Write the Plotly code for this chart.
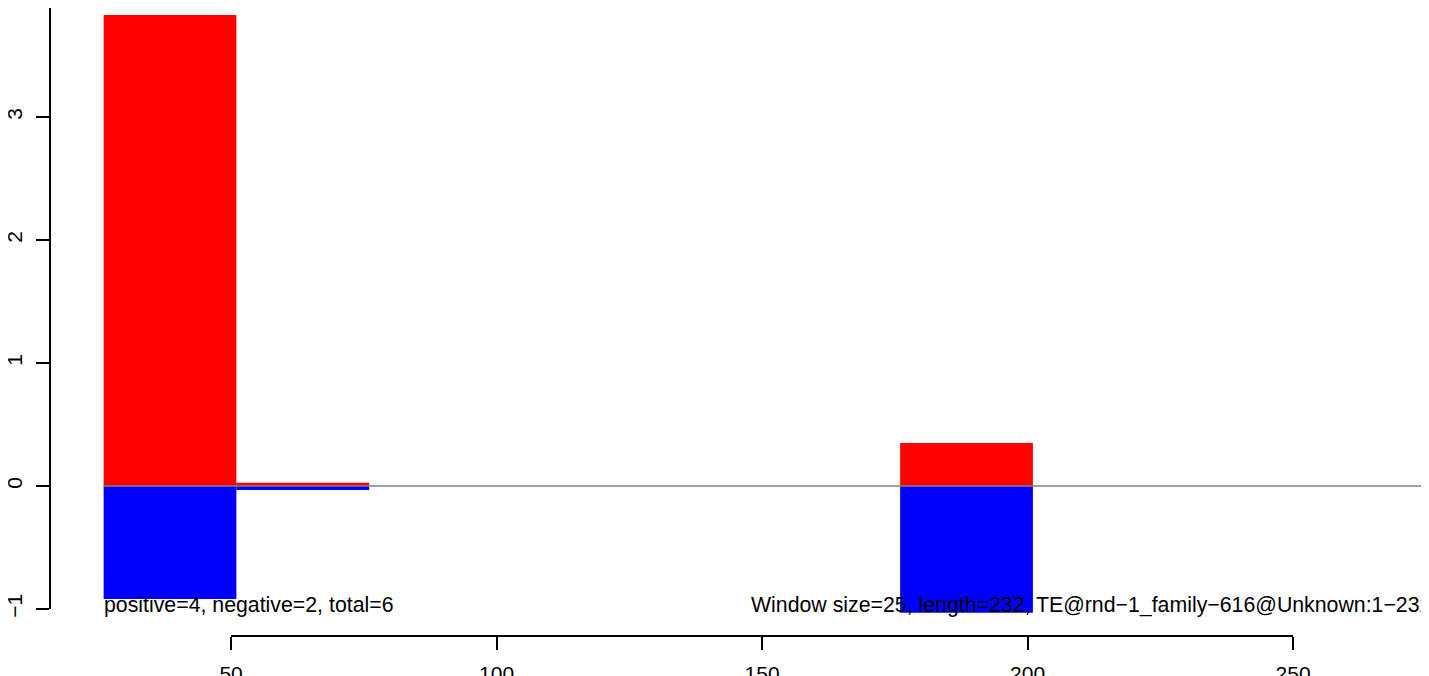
import plotly.graph_objects as go

# Data
window_starts = [26, 51, 176]
window_size = 25
positive_vals = [3.83, 0.025, 0.35]
negative_vals = [-0.92, -0.033, -1.03]
x_ticks = [50, 100, 150, 200, 250]
y_ticks = [-1, 0, 1, 2, 3, 4]
left_text = "positive=4, negative=2, total=6"
right_text = "Window size=25, length=232, TE@rnd\u22121_family\u2212616@Unknown:1\u2212232"

FONT = "Liberation Sans, Arial, Helvetica, sans-serif"
FS = 21
FS_TXT = 21.3

fig = go.Figure()

# zero line (drawn below bars)
fig.add_trace(go.Scatter(x=[26, 300], y=[0, 0], mode="lines",
                         line=dict(color="#808080", width=1.5),
                         hoverinfo="skip", showlegend=False, cliponaxis=True))

fig.add_trace(go.Bar(x=window_starts, y=positive_vals, base=0, width=window_size, offset=0,
                     marker=dict(color="#FF0000", line=dict(width=0)), showlegend=False))
fig.add_trace(go.Bar(x=window_starts, y=negative_vals, base=0, width=window_size, offset=0,
                     marker=dict(color="#0000FF", line=dict(width=0)), showlegend=False))

fig.add_annotation(x=25.7, y=-0.97, text=left_text, showarrow=False,
                   xanchor="left", yanchor="middle", xref="x", yref="y",
                   font=dict(family=FONT, size=FS_TXT, color="black"))
fig.add_annotation(x=147.6, y=-0.97, text=right_text, showarrow=False,
                   xanchor="left", yanchor="middle", xref="x", yref="y",
                   font=dict(family=FONT, size=FS_TXT, color="black"))

# axis lines spanning tick range like R
fig.add_shape(type="line", xref="x", yref="paper", x0=x_ticks[0], x1=x_ticks[-1], y0=0, y1=0,
              line=dict(color="black", width=2))
fig.add_shape(type="line", xref="paper", yref="y", x0=0, x1=0, y0=y_ticks[0], y1=y_ticks[-1],
              line=dict(color="black", width=2))

fig.update_layout(
    width=1429, height=676,
    margin=dict(l=42, r=0, t=0, b=48, autoexpand=False),
    paper_bgcolor="white", plot_bgcolor="white",
    barmode="overlay",
    font=dict(family=FONT, size=FS, color="black"),
    xaxis=dict(range=[15.9, 277.1], tickvals=x_ticks, ticks="outside", ticklen=13, tickwidth=2,
               tickcolor="black", showgrid=False, zeroline=False, showline=False, automargin=False,
               ticklabelstandoff=6, tickfont=dict(family=FONT, size=FS)),
    yaxis=dict(range=[-1.22, 3.886], tickvals=y_ticks, ticks="outside", ticklen=13, tickwidth=2,
               tickcolor="black", showgrid=False, zeroline=False, showline=False, automargin=False,
               tickangle=-90, ticklabelstandoff=6, tickfont=dict(family=FONT, size=FS)),
)

fig.write_html("out.html")
